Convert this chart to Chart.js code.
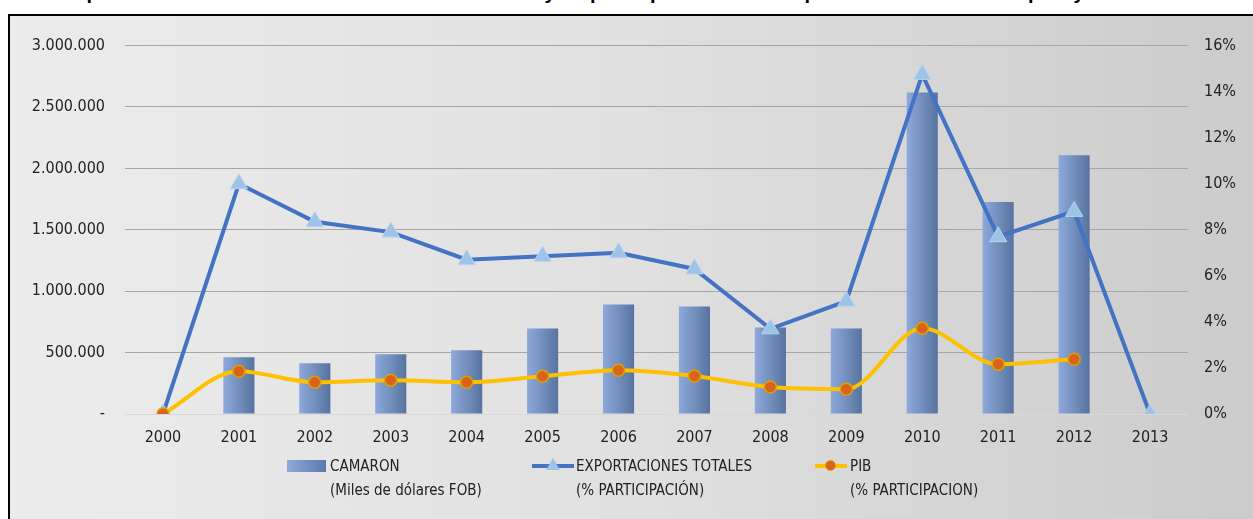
<!DOCTYPE html>
<html>
<head>
<meta charset="utf-8">
<script src="https://cdn.jsdelivr.net/npm/chart.js@4.4.1/dist/chart.umd.min.js"></script>
<style>
  body { margin: 0; background: #fff; width: 1253px; height: 519px; overflow: hidden; position: relative; font-family: "Liberation Sans Narrow", "DejaVu Sans Condensed", sans-serif; }
  #title { position: absolute; left: 0; top: 0; width: 1253px; height: 14px; overflow: hidden; }
  #title span { position: absolute; left: 62px; top: -19px; font: bold 20px "Liberation Sans", sans-serif; white-space: nowrap; color: #000; }
  #frame { position: absolute; left: 8px; top: 14px; width: 1260px; height: 520px; border: 2px solid #000;
           background: linear-gradient(to right, #ececec 0%, #e0e0e0 50%, #cbcbcb 100%); }
  #wrap { position: absolute; left: 0; top: 0; width: 1243px; height: 503px; }
  .leg { position: absolute; font-size: 15px; color: #222; white-space: nowrap; line-height: 24px; }
  .sym { position: absolute; }
</style>
</head>
<body>
<div id="title"><span>Exportaciones de camarón del Ecuador 2000-2013 y su participación en las exportaciones totales del país y en el PIB</span></div>
<div id="frame">
  <div id="wrap"><canvas id="c"></canvas></div>
  <div class="sym" style="left:277px;top:444px;width:39px;height:12px;background:linear-gradient(to right,#8eaadb,#5b79ab);"></div>
  <div class="leg" style="left:320px;top:438px;">CAMARON<br>(Miles de dólares FOB)</div>
  <div class="sym" style="left:522px;top:448px;width:42px;height:4px;background:#4472c4;"></div>
  <div class="sym" style="left:536px;top:442px;width:0;height:0;border-left:7px solid transparent;border-right:7px solid transparent;border-bottom:12px solid #9dc3e6;"></div>
  <div class="leg" style="left:566px;top:438px;">EXPORTACIONES TOTALES<br>(% PARTICIPACIÓN)</div>
  <div class="sym" style="left:805px;top:448px;width:32px;height:4px;background:#ffc000;"></div>
  <div class="sym" style="left:815px;top:444px;width:9px;height:9px;border-radius:50%;background:#d9621c;border:1.5px solid #e0a000;"></div>
  <div class="leg" style="left:840px;top:438px;">PIB<br>(% PARTICIPACION)</div>
</div>
<script>
const years = ['2000','2001','2002','2003','2004','2005','2006','2007','2008','2009','2010','2011','2012','2013'];
const camaron = [0, 462000, 413000, 486000, 519000, 697000, 891000, 875000, 705000, 697000, 2618000, 1726000, 2107000, 0];
const exportaciones = [0, 10.0, 8.35, 7.9, 6.7, 6.85, 7.0, 6.3, 3.7, 4.9, 14.75, 7.7, 8.8, 0];
const pib = [0, 1.86, 1.38, 1.47, 1.38, 1.64, 1.9, 1.65, 1.17, 1.08, 3.72, 2.16, 2.38, null];

const fontFam = '"Liberation Sans Narrow", "DejaVu Sans Condensed", sans-serif';
const fmtMiles = (v) => v === 0 ? '-' : String(v).replace(/\B(?=(\d{3})+(?!\d))/g, '.');

function barFill(ctx) {
    const chart = ctx.chart;
    const x = chart.scales.x ? chart.scales.x.getPixelForValue(ctx.dataIndex) : NaN;
    if (!isFinite(x)) return '#7390c4';
    const g = chart.ctx.createLinearGradient(x - 16, 0, x + 16, 0);
    g.addColorStop(0, '#8eaadb');
    g.addColorStop(1, '#56739f');
    return g;
}

new Chart(document.getElementById('c'), {
    data: {
        labels: years,
        datasets: [
            { type: 'line', label: 'PIB', data: pib, yAxisID: 'y2', borderColor: '#ffc000', borderWidth: 4,
              tension: 0.4, cubicInterpolationMode: 'monotone', pointRadius: 6, pointBackgroundColor: '#d9621c',
              pointBorderColor: '#e0a000', pointBorderWidth: 1.5, order: 1 },
            { type: 'line', label: 'EXPORTACIONES TOTALES', data: exportaciones, yAxisID: 'y2', borderColor: '#4472c4',
              borderWidth: 4, tension: 0, pointStyle: 'triangle', pointRadius: 10, pointBackgroundColor: '#9dc3e6',
              pointBorderColor: '#b8d4ee', pointBorderWidth: 1, order: 2 },
            { type: 'bar', label: 'CAMARON', data: camaron, yAxisID: 'y', backgroundColor: barFill,
              categoryPercentage: 1, barPercentage: 0.41, order: 3 }
        ]
    },
    options: {
        responsive: true, maintainAspectRatio: false, animation: false,
        layout: { padding: { top: 25, bottom: 65, left: 0, right: 0 } },
        plugins: { legend: { display: false }, tooltip: { enabled: false } },
        scales: {
            x: {
                grid: { display: false },
                border: { color: '#d8d8d8' },
                ticks: { color: '#222', font: { family: fontFam, size: 16 }, padding: 6, maxRotation: 0 },
                afterFit: (s) => { s.height = 40; }
            },
            y: {
                position: 'left', min: 0, max: 3000000,
                ticks: { stepSize: 500000, callback: fmtMiles, color: '#222', font: { family: fontFam, size: 16 }, padding: 20 },
                grid: { color: '#a6a6a6', lineWidth: 1, drawTicks: false },
                border: { display: false },
                afterFit: (s) => { s.width = 115; }
            },
            y2: {
                position: 'right', min: 0, max: 16,
                ticks: { stepSize: 2, callback: (v) => v + '%', color: '#222', font: { family: fontFam, size: 16 }, padding: 16 },
                grid: { display: false, drawTicks: false },
                border: { display: false },
                afterFit: (s) => { s.width = 65; }
            }
        }
    }
});
</script>
</body>
</html>
